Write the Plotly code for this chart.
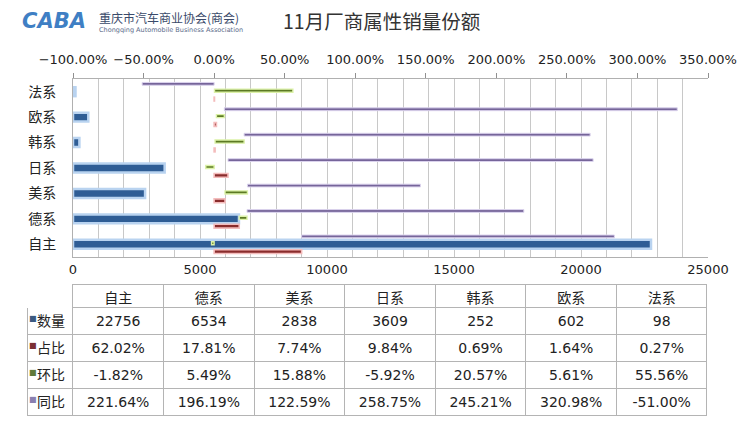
import numpy as np
import plotly.graph_objects as go

categories = ["自主", "德系", "美系", "日系", "韩系", "欧系", "法系"]
volume = [22756, 6534, 2838, 3609, 252, 602, 98]          # 数量
share = [62.02, 17.81, 7.74, 9.84, 0.69, 1.64, 0.27]      # 占比 %
mom = [-1.82, 5.49, 15.88, -5.92, 20.57, 5.61, 55.56]     # 环比 %
yoy = [221.64, 196.19, 122.59, 258.75, 245.21, 320.98, -51.00]  # 同比 %
row_names = ["数量", "占比", "环比", "同比"]

W, H = 750, 428
FONT = "DejaVu Sans, Noto Sans CJK SC"
CJK = "Noto Sans CJK SC"

# Excel-style stacking of the percentage series (positives and negatives stack separately)
pct_series = [share, mom, yoy]
bases = []
pos = np.zeros(len(categories))
neg = np.zeros(len(categories))
for s in pct_series:
    v = np.array(s, dtype=float)
    b = np.where(v >= 0, pos, neg)
    bases.append(b)
    pos = pos + np.where(v >= 0, v, 0)
    neg = neg + np.where(v < 0, v, 0)

fig = go.Figure()

fig.add_trace(go.Bar(
    y=categories, x=volume, orientation="h", name="数量",
    width=0.35, offset=-0.175,
    marker=dict(color="#2f5d95", line=dict(color="#b9d3f0", width=2.5)),
    xaxis="x", yaxis="y",
))

styles = [
    ("占比", "#8a2c2c", "#f4bcbc", 0.15, -0.365, 1.6),
    ("环比", "#5c7a24", "#dcf2a8", 0.12, -0.02, 1.4),
    ("同比", "#76659a", "#dcd4ee", 0.11, 0.255, 1.0),
]
for s, b, (nm, col, glow, w, off, lw) in zip(pct_series, bases, styles):
    fig.add_trace(go.Bar(
        y=categories, x=s, base=b, orientation="h", name=nm,
        width=w, offset=off,
        marker=dict(color=col, line=dict(color=glow, width=lw)),
        xaxis="x2", yaxis="y",
    ))

# data table
cols = [row_names]
for i in range(len(categories)):
    cols.append([
        f"{volume[i]}",
        f"{share[i]:.2f}%",
        f"{mom[i]:.2f}%",
        f"{yoy[i]:.2f}%",
    ])

line_gray = "#b4b4b4"
tbl_x = [27 / W, 708 / W]
tbl_y = [1 - 416 / H, 1 - 284 / H]
colw = [46] + [90.7] * len(categories)
fig.add_trace(go.Table(
    domain=dict(x=tbl_x, y=tbl_y),
    columnwidth=colw,
    header=dict(
        values=[""] + categories,
        height=23,
        align="center",
        fill=dict(color="white"),
        line=dict(color=["white"] + [line_gray] * len(categories), width=1),
        font=dict(family=CJK, size=14, color="#222222"),
    ),
    cells=dict(
        values=cols,
        height=27,
        align=["right"] + ["center"] * len(categories),
        fill=dict(color="white"),
        line=dict(color=line_gray, width=1),
        font=dict(family=[CJK] + [FONT] * len(categories), size=14, color="#222222"),
    ),
))

# legend keys of the table (transparent overlay table, one coloured square per row)
key_colors = ["#3b5a80", "#7a2f33", "#5f7a3a", "#8a80b0"]
fig.add_trace(go.Table(
    domain=dict(x=[21 / W, 37 / W], y=tbl_y),
    columnwidth=[16],
    header=dict(values=[""], height=23, fill=dict(color="rgba(0,0,0,0)"),
                line=dict(color="rgba(0,0,0,0)", width=0), font=dict(size=14)),
    cells=dict(values=[["■"] * len(row_names)], height=27, align="left",
               fill=dict(color="rgba(0,0,0,0)"), line=dict(color="rgba(0,0,0,0)", width=0),
               font=dict(family="DejaVu Sans", size=8, color=[key_colors])),
))

fig.update_layout(
    width=W, height=H,
    margin=dict(l=0, r=0, t=0, b=0, autoexpand=False),
    paper_bgcolor="white", plot_bgcolor="white",
    barmode="overlay",
    showlegend=False,
    font=dict(family=FONT, size=13, color="#222222"),
    xaxis=dict(
        domain=[73 / W, 708 / W],
        range=[0, 25000], dtick=5000, tick0=0, tickformat="d",
        showgrid=True, gridcolor="#c8c8c8", gridwidth=1,
        minor=dict(dtick=1000, showgrid=True, gridcolor="#c8c8c8", gridwidth=1),
        showline=True, linecolor="#b0b0b0", linewidth=1,
        zeroline=False, ticks="", tickangle=0, automargin=False,
        tickfont=dict(family=FONT, size=13, color="#222222"),
        anchor="y", fixedrange=True,
    ),
    xaxis2=dict(
        overlaying="x", side="top", anchor="y",
        range=[-100, 350], dtick=50, tick0=0,
        tickformat=".2f", ticksuffix="%", tickangle=0, automargin=False,
        showgrid=False, zeroline=False,
        showline=True, linecolor="#b0b0b0", linewidth=1,
        ticks="outside", ticklen=5, tickcolor="#909090", ticklabelstandoff=4,
        tickfont=dict(family=FONT, size=13, color="#222222"),
        fixedrange=True,
    ),
    yaxis=dict(
        domain=[1 - 257 / H, 1 - 79 / H],
        type="category", categoryorder="array", categoryarray=categories,
        range=[-0.5, len(categories) - 0.5],
        showgrid=False, zeroline=False, automargin=False,
        showline=True, linecolor="#b0b0b0", linewidth=1,
        ticks="", ticklabelstandoff=13,
        tickfont=dict(family=CJK, size=14, color="#222222"),
        fixedrange=True,
    ),
    annotations=[
        dict(text="<b><i>CABA</i></b>", x=20 / W, y=1 - 21 / H, xref="paper", yref="paper",
             xanchor="left", yanchor="middle", showarrow=False,
             font=dict(family="DejaVu Sans", size=21, color="#3f7fc4")),
        dict(text="重庆市汽车商业协会(商会)", x=97 / W, y=1 - 17 / H, xref="paper", yref="paper",
             xanchor="left", yanchor="middle", showarrow=False,
             font=dict(family=CJK, size=12, color="#3a4a6a")),
        dict(text="Chongqing Automobile Business Association", x=97 / W, y=1 - 30 / H,
             xref="paper", yref="paper", xanchor="left", yanchor="middle", showarrow=False,
             font=dict(family="DejaVu Sans", size=6.5, color="#5a6a8a")),
        dict(text="11月厂商属性销量份额", x=281 / W, y=1 - 20 / H, xref="paper", yref="paper",
             xanchor="left", yanchor="middle", showarrow=False,
             font=dict(family=CJK, size=19.5, color="#333333")),
    ],
)

fig.write_html("out.html")
